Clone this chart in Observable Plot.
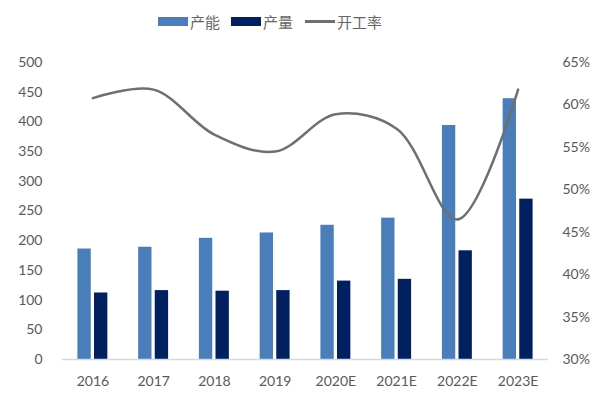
<!DOCTYPE html>
<html>
<head>
<meta charset="utf-8">
<script src="https://cdn.jsdelivr.net/npm/d3@7"></script>
<script src="https://cdn.jsdelivr.net/npm/@observablehq/plot@0.6"></script>
<style>
  body { margin: 0; background: #fff; }
  #legend { position: relative; height: 40px; width: 600px; font-family: "Noto Sans CJK SC", sans-serif; font-size: 15px; color: #666; }
  .item { position: absolute; top: 11px; display: flex; align-items: center; height: 20px; }
  .sw { width: 30px; height: 9px; margin-right: 2px; }
  .ln { width: 30px; height: 3px; background: #6f6f6f; margin-right: 2px; }
</style>
</head>
<body>
<div id="legend">
  <div class="item" style="left:158px"><div class="sw" style="background:#4a7ebb"></div><span>产能</span></div>
  <div class="item" style="left:231px"><div class="sw" style="background:#002060"></div><span>产量</span></div>
  <div class="item" style="left:305px"><div class="ln"></div><span>开工率</span></div>
</div>
<div id="chart"></div>
<script>
const years = ["2016", "2017", "2018", "2019", "2020E", "2021E", "2022E", "2023E"];
const capacity = [186, 189, 204, 213, 226, 238, 394, 439];
const output = [112, 116, 115, 116, 132, 135, 183, 270];
const utilization = [60.8, 61.8, 56.5, 54.5, 58.9, 57.2, 46.5, 61.8];
const leftTicks = [0, 50, 100, 150, 200, 250, 300, 350, 400, 450, 500];
const rightTicks = [30, 35, 40, 45, 50, 55, 60, 65];

const pMin = 30, pMax = 65, yMax = 500;
const toLeft = p => (p - pMin) / (pMax - pMin) * yMax;
const fromLeft = v => v / yMax * (pMax - pMin) + pMin;

const rows = years.map((y, i) => ({year: y, capacity: capacity[i], output: output[i], util: utilization[i]}));

const font = "Lato, 'Open Sans', sans-serif";
const chart = Plot.plot({
  width: 600,
  height: 360,
  marginTop: 22,
  marginBottom: 41,
  marginLeft: 62,
  marginRight: 52,
  style: {fontFamily: font, fontSize: "14px", color: "#595959", background: "#fff"},
  x: {type: "band", domain: years, padding: 0, round: false, label: null},
  y: {domain: [0, yMax], label: null},
  marks: [
    Plot.barY(rows, {x: "year", y: "capacity", fill: "#4a7ebb", insetLeft: 15.4, insetRight: 32}),
    Plot.barY(rows, {x: "year", y: "output", fill: "#002060", insetLeft: 32, insetRight: 15.4}),
    Plot.ruleY([0], {stroke: "#d9d9d9", strokeWidth: 1.5}),
    Plot.lineY(rows, {x: "year", y: d => toLeft(d.util), stroke: "#6f6f6f", strokeWidth: 2.5, curve: "catmull-rom"}),
    Plot.axisY(leftTicks, {anchor: "left", tickSize: 0, tickPadding: 20, label: null}),
    Plot.axisY(rightTicks.map(toLeft), {anchor: "right", tickSize: 0, tickPadding: 14, label: null, tickFormat: v => Math.round(fromLeft(v)) + "%"}),
    Plot.axisX(years, {tickSize: 0, tickPadding: 17, label: null})
  ]
});
document.getElementById("chart").appendChild(chart);
</script>
</body>
</html>
